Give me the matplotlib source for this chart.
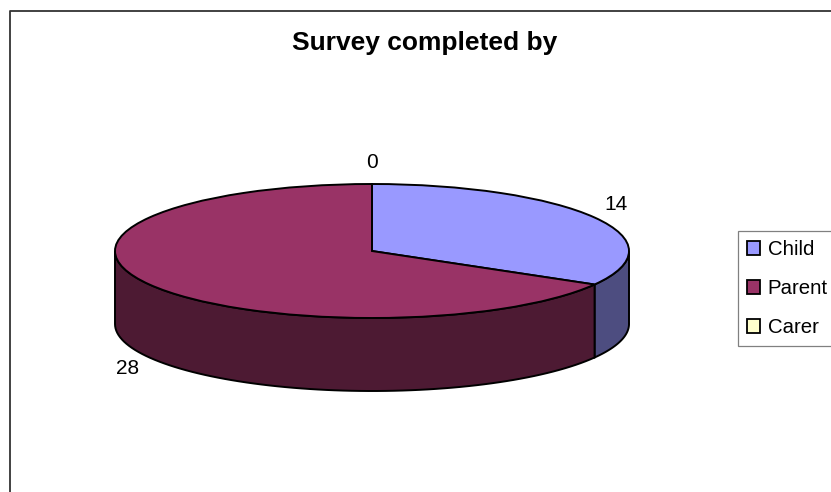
import numpy as np
import matplotlib
matplotlib.use("Agg")
import matplotlib.pyplot as plt
from matplotlib.lines import Line2D
from matplotlib.patches import Patch

plt.rcParams["font.family"] = ["Liberation Sans", "DejaVu Sans"]

# ---- data ----
categories = ["Child", "Parent", "Carer"]
values = [14, 28, 0]
top_colors = ["#9999FF", "#993366", "#FFFFCC"]
side_colors = ["#4D4D80", "#4D1A33", "#808066"]

# ---- layout, in reference pixels ----
W, H = 831, 492
CX, CY = 372, 251
RX, RY = 257, 67
DEPTH = 73 / RY

fig = plt.figure(figsize=(W / 100, H / 100), dpi=100, facecolor="white")
ax = fig.add_axes([0, 0, 1, 1])

wedges, _ = ax.pie(
    values,
    colors=top_colors,
    startangle=90,
    counterclock=False,
    wedgeprops={"edgecolor": "black", "linewidth": 1.4, "zorder": 3},
)

# pie forces a round aspect, the squashed look comes from the axis limits
ax.set_aspect("auto")
ax.set_xlim(-CX / RX, (W - CX) / RX)
ax.set_ylim(-(H - CY) / RY, CY / RY)

# side walls, only the part of each slice facing the viewer
edges = 90 - np.cumsum([0] + values) / sum(values) * 360
for i, color in enumerate(side_colors):
    start, end = edges[i], edges[i + 1]
    low, high = max(end, -180), min(start, 0)
    if low >= high:
        continue
    theta = np.radians(np.linspace(high, low, 80))
    xs = np.cos(theta)
    ys = np.sin(theta)
    ax.fill(
        np.r_[xs, xs[::-1]],
        np.r_[ys, ys[::-1] - DEPTH],
        facecolor=color,
        edgecolor="black",
        linewidth=1.4,
        zorder=2,
    )


def px(x, y):
    return (x - CX) / RX, (CY - y) / RY


# value labels
label_pos = [(616, 205), (128, 369), (372, 163)]
for val, (lx, ly) in zip(values, label_pos):
    ax.text(*px(lx, ly), str(val), fontsize=15, ha="center", va="center", color="black")

ax.text(*px(425, 43), "Survey completed by", fontsize=19, fontweight="bold",
        ha="center", va="center", color="black")

# chart border, runs off the right and bottom of the picture
fig.add_artist(Line2D([10 / W, 10 / W, 1], [0, 1 - 11 / H, 1 - 11 / H],
                      color="#333333", linewidth=1.3, transform=fig.transFigure))

handles = [Patch(facecolor=c, edgecolor="black", linewidth=1.3) for c in top_colors]
leg = fig.legend(
    handles,
    categories,
    loc="upper left",
    bbox_to_anchor=(738 / W, 1 - 231 / H),
    borderaxespad=0,
    fontsize=14.7,
    frameon=True,
    fancybox=False,
    framealpha=1,
    edgecolor="#808080",
    handlelength=0.63,
    handleheight=0.63,
    handletextpad=0.38,
    labelspacing=0.98,
    borderpad=0.45,
)
leg.get_frame().set_linewidth(0.9)

fig.savefig("out.png", dpi=100)
